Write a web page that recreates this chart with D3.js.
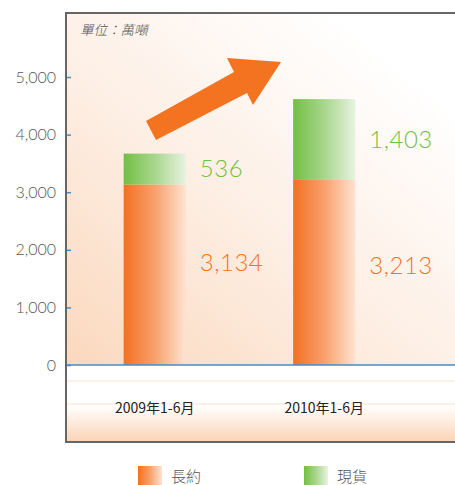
<!DOCTYPE html>
<html>
<head>
<meta charset="utf-8">
<script src="https://cdn.jsdelivr.net/npm/d3@7"></script>
<style>
  body { margin: 0; background: #fff; }
  svg { display: block; }
  .num { font-family: "Lato", "Open Sans", sans-serif; font-weight: 300; }
</style>
</head>
<body>
<div id="chart"></div>
<script>
// du lieu
const categories = ["2009年1-6月", "2010年1-6月"];
const longTerm = [3134, 3213];   // 長約
const spot = [536, 1403];        // 現貨
const seriesNames = ["長約", "現貨"];
const yTicks = [0, 1000, 2000, 3000, 4000, 5000];
const unitLabel = "單位：萬噸";

const W = 455, H = 485;
const frame = { left: 66, top: 13, bottom: 442 };
const baseY = 365;

const svg = d3.select("#chart").append("svg")
    .attr("width", W)
    .attr("height", H);

const defs = svg.append("defs");

// nen vung ve
const bg = defs.append("linearGradient").attr("id", "bgGrad")
    .attr("x1", 0).attr("y1", 1).attr("x2", 0.8).attr("y2", 0.1);
bg.append("stop").attr("offset", 0).attr("stop-color", "#fbd8bd");
bg.append("stop").attr("offset", 0.5).attr("stop-color", "#fdeee3");
bg.append("stop").attr("offset", 1).attr("stop-color", "#ffffff");

const bottomGrad = defs.append("linearGradient").attr("id", "botGrad")
    .attr("x1", 0).attr("y1", 0).attr("x2", 0).attr("y2", 1);
bottomGrad.append("stop").attr("offset", 0).attr("stop-color", "#ffffff");
bottomGrad.append("stop").attr("offset", 1).attr("stop-color", "#fbd3b5");

const orangeGrad = defs.append("linearGradient").attr("id", "orangeGrad");
orangeGrad.append("stop").attr("offset", 0).attr("stop-color", "#f37021");
orangeGrad.append("stop").attr("offset", 0.5).attr("stop-color", "#f8a06b");
orangeGrad.append("stop").attr("offset", 1).attr("stop-color", "#fee3d1");

const greenGrad = defs.append("linearGradient").attr("id", "greenGrad");
greenGrad.append("stop").attr("offset", 0).attr("stop-color", "#72bf44");
greenGrad.append("stop").attr("offset", 0.5).attr("stop-color", "#a8d68c");
greenGrad.append("stop").attr("offset", 1).attr("stop-color", "#e8f3e0");

// scales
const y = d3.scaleLinear().domain([0, 5000]).range([baseY, 77]);
const x = d3.scaleBand()
    .domain(categories)
    .range([70, 409])
    .paddingInner(0.633)
    .paddingOuter(0.3165);

// nen
svg.append("rect")
    .attr("x", frame.left).attr("y", frame.top)
    .attr("width", W - frame.left).attr("height", baseY - frame.top)
    .attr("fill", "url(#bgGrad)");
svg.append("rect")
    .attr("x", frame.left).attr("y", baseY)
    .attr("width", W - frame.left).attr("height", 40)
    .attr("fill", "#fff");
svg.append("rect")
    .attr("x", frame.left).attr("y", baseY + 40)
    .attr("width", W - frame.left).attr("height", frame.bottom - baseY - 40)
    .attr("fill", "url(#botGrad)");
[381, 404].forEach(v => {
    svg.append("line")
        .attr("x1", frame.left).attr("x2", W)
        .attr("y1", v).attr("y2", v)
        .attr("stroke", "#fbe2d0").attr("stroke-width", 1);
});

// mui ten
svg.append("path")
    .attr("d", "M146,121 L234,72 L227,58 L281,62 L253,105 L247,93 L156,140 Z")
    .attr("fill", "#f47321");

// cot
const rows = categories.map((c, i) => ({ cat: c, lt: longTerm[i], sp: spot[i] }));

svg.selectAll(".bar-lt")
    .data(rows)
    .join("rect")
    .attr("class", "bar-lt")
    .attr("x", d => x(d.cat))
    .attr("y", d => y(d.lt))
    .attr("width", x.bandwidth())
    .attr("height", d => y(0) - y(d.lt))
    .attr("fill", "url(#orangeGrad)");

svg.selectAll(".bar-sp")
    .data(rows)
    .join("rect")
    .attr("class", "bar-sp")
    .attr("x", d => x(d.cat))
    .attr("y", d => y(d.lt + d.sp))
    .attr("width", x.bandwidth())
    .attr("height", d => y(d.lt) - y(d.lt + d.sp))
    .attr("fill", "url(#greenGrad)");

// nhan gia tri
const fmt = d3.format(",");
svg.selectAll(".lbl-sp")
    .data(rows)
    .join("text")
    .attr("class", "lbl-sp num")
    .attr("x", d => x(d.cat) + x.bandwidth() + 14)
    .attr("y", d => (y(d.lt) + y(d.lt + d.sp)) / 2 + 8)
    .attr("font-size", 24)
    .attr("letter-spacing", 0.5)
    .attr("fill", "#72bf44")
    .text(d => fmt(d.sp));

svg.selectAll(".lbl-lt")
    .data(rows)
    .join("text")
    .attr("class", "lbl-lt num")
    .attr("x", d => x(d.cat) + x.bandwidth() + 14)
    .attr("y", (d, i) => (y(0) + y(d.lt)) / 2 + (i === 0 ? -4 : 2))
    .attr("font-size", 24)
    .attr("letter-spacing", 0.5)
    .attr("fill", "#f47321")
    .text(d => fmt(d.lt));

// truc Y
const yAxis = svg.append("g")
    .attr("transform", `translate(${frame.left},0)`)
    .call(d3.axisRight(y).tickValues(yTicks).tickSize(5).tickFormat(fmt));
yAxis.select(".domain").remove();
yAxis.selectAll("line").attr("stroke", "#3d8fd1").attr("stroke-width", 1.5);
yAxis.selectAll("text")
    .attr("class", "num")
    .attr("x", -10)
    .attr("text-anchor", "end")
    .attr("font-size", 16)
    .attr("font-weight", 400)
    .attr("fill", "#555");

// duong 0
svg.append("line")
    .attr("x1", frame.left).attr("x2", W)
    .attr("y1", y(0)).attr("y2", y(0))
    .attr("stroke", "#3d8fd1").attr("stroke-width", 1.5);

// truc X
svg.selectAll(".cat")
    .data(categories)
    .join("text")
    .attr("class", "cat")
    .attr("x", d => x(d) + x.bandwidth() / 2)
    .attr("y", 413)
    .attr("text-anchor", "middle")
    .attr("font-family", "'Noto Sans CJK TC', sans-serif")
    .attr("font-size", 14)
    .attr("font-weight", 400)
    .attr("fill", "#222")
    .text(d => d);

// khung
svg.append("path")
    .attr("d", `M${W},${frame.top} L${frame.left},${frame.top} L${frame.left},${frame.bottom} L${W},${frame.bottom}`)
    .attr("fill", "none")
    .attr("stroke", "#666")
    .attr("stroke-width", 2);

// don vi
svg.append("text")
    .attr("x", 80).attr("y", 35)
    .attr("font-family", "'Noto Sans CJK TC', sans-serif")
    .attr("font-style", "italic")
    .attr("font-size", 13.5)
    .attr("font-weight", 300)
    .attr("fill", "#555")
    .text(unitLabel);

// chu giai
const legendX = [138, 304];
const legendFill = ["url(#orangeGrad)", "url(#greenGrad)"];
const lg = svg.selectAll(".legend")
    .data(seriesNames)
    .join("g")
    .attr("class", "legend")
    .attr("transform", (d, i) => `translate(${legendX[i]},466)`);
lg.append("rect")
    .attr("width", 24).attr("height", 20)
    .attr("fill", (d, i) => legendFill[i]);
lg.append("text")
    .attr("x", 33).attr("y", 16)
    .attr("font-family", "'Noto Sans CJK TC', sans-serif")
    .attr("font-size", 15)
    .attr("font-weight", 300)
    .attr("fill", "#555")
    .text(d => d);
</script>
</body>
</html>
